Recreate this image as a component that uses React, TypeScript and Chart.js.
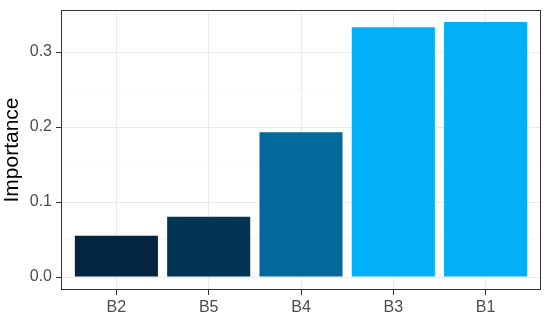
import React, { useEffect, useRef } from "react";
import { Chart, registerables } from "chart.js";

Chart.register(...registerables);

const categories = ["B2", "B5", "B4", "B3", "B1"];
const importance = [0.055, 0.0805, 0.193, 0.333, 0.340];
const barColors = ["#03253f", "#023453", "#02699a", "#01b0f6", "#01b0f6"];
const yMajorTicks = [0, 0.1, 0.2, 0.3];
const yMinorTicks = [0.05, 0.15, 0.25, 0.35];
const yAxisTitle = "Importance";

const isMajor = (v: number) => yMajorTicks.some((m) => Math.abs(m - v) < 1e-9);

const panelBorder = {
  id: "panelBorder",
  afterDatasetsDraw(chart: any) {
    const { ctx, chartArea } = chart;
    ctx.save();
    ctx.strokeStyle = "#333333";
    ctx.lineWidth = 1;
    ctx.strokeRect(
      Math.round(chartArea.left) + 0.5,
      Math.round(chartArea.top) + 0.5,
      Math.round(chartArea.right - chartArea.left) - 1,
      Math.round(chartArea.bottom - chartArea.top) - 1
    );
    ctx.restore();
  },
};

export default function App() {
  const ref = useRef<HTMLCanvasElement | null>(null);

  useEffect(() => {
    document.body.style.margin = "0";
    const canvas = ref.current;
    if (!canvas) return;
    const font = { family: "'Liberation Sans', Arial, sans-serif", size: 16 };
    const chart = new Chart(canvas, {
      type: "bar",
      data: {
        datasets: [
          {
            data: categories.map((c, i) => ({ x: i + 1, y: importance[i] })),
            backgroundColor: barColors,
            borderWidth: 0,
            barPercentage: 0.9,
            categoryPercentage: 1,
          },
        ],
      },
      options: {
        responsive: false,
        animation: false,
        layout: { padding: { top: 10, right: 9, left: 0, bottom: 0 } },
        plugins: { legend: { display: false }, tooltip: { enabled: false } },
        scales: {
          x: {
            type: "linear",
            offset: false,
            min: 0.4,
            max: 5.6,
            afterBuildTicks: (scale: any) => {
              scale.ticks = categories.map((_, i) => ({ value: i + 1 }));
            },
            afterFit: (scale: any) => {
              scale.height = 31;
              scale.paddingLeft = 0;
              scale.paddingRight = 0;
            },
            ticks: {
              autoSkip: false,
              maxRotation: 0,
              color: "#4d4d4d",
              font,
              padding: 3,
              callback: (v: any) => categories[Math.round(v) - 1] ?? "",
            },
            grid: {
              offset: false,
              color: "#ebebeb",
              lineWidth: 1,
              tickColor: "#333333",
              tickLength: 5,
            },
            border: { display: false },
          },
          y: {
            type: "linear",
            min: -0.0173,
            max: 0.356,
            afterBuildTicks: (scale: any) => {
              scale.ticks = [...yMajorTicks, ...yMinorTicks]
                .sort((a, b) => a - b)
                .map((v) => ({ value: v }));
            },
            afterFit: (scale: any) => {
              scale.width = 61;
              scale.paddingTop = 0;
              scale.paddingBottom = 0;
            },
            ticks: {
              autoSkip: false,
              color: "#4d4d4d",
              font,
              padding: 4,
              callback: (v: any) => (isMajor(v) ? Number(v).toFixed(1) : ""),
            },
            grid: {
              color: (ctx: any) => (isMajor(ctx.tick?.value) ? "#ebebeb" : "#f3f3f3"),
              lineWidth: (ctx: any) => (isMajor(ctx.tick?.value) ? 1 : 0.7),
              tickColor: (ctx: any) => (isMajor(ctx.tick?.value) ? "#333333" : "rgba(0,0,0,0)"),
              tickLength: 5,
            },
            border: { display: false },
            title: {
              display: true,
              text: yAxisTitle,
              color: "#000000",
              font: { family: "'Liberation Sans', Arial, sans-serif", size: 21 },
              padding: 0,
            },
          },
        },
      },
      plugins: [panelBorder],
    } as any);
    return () => chart.destroy();
  }, []);

  return (
    <div style={{ position: "absolute", left: 0, top: 0, width: 550, height: 321 }}>
      <canvas ref={ref} width={550} height={321} />
    </div>
  );
}
